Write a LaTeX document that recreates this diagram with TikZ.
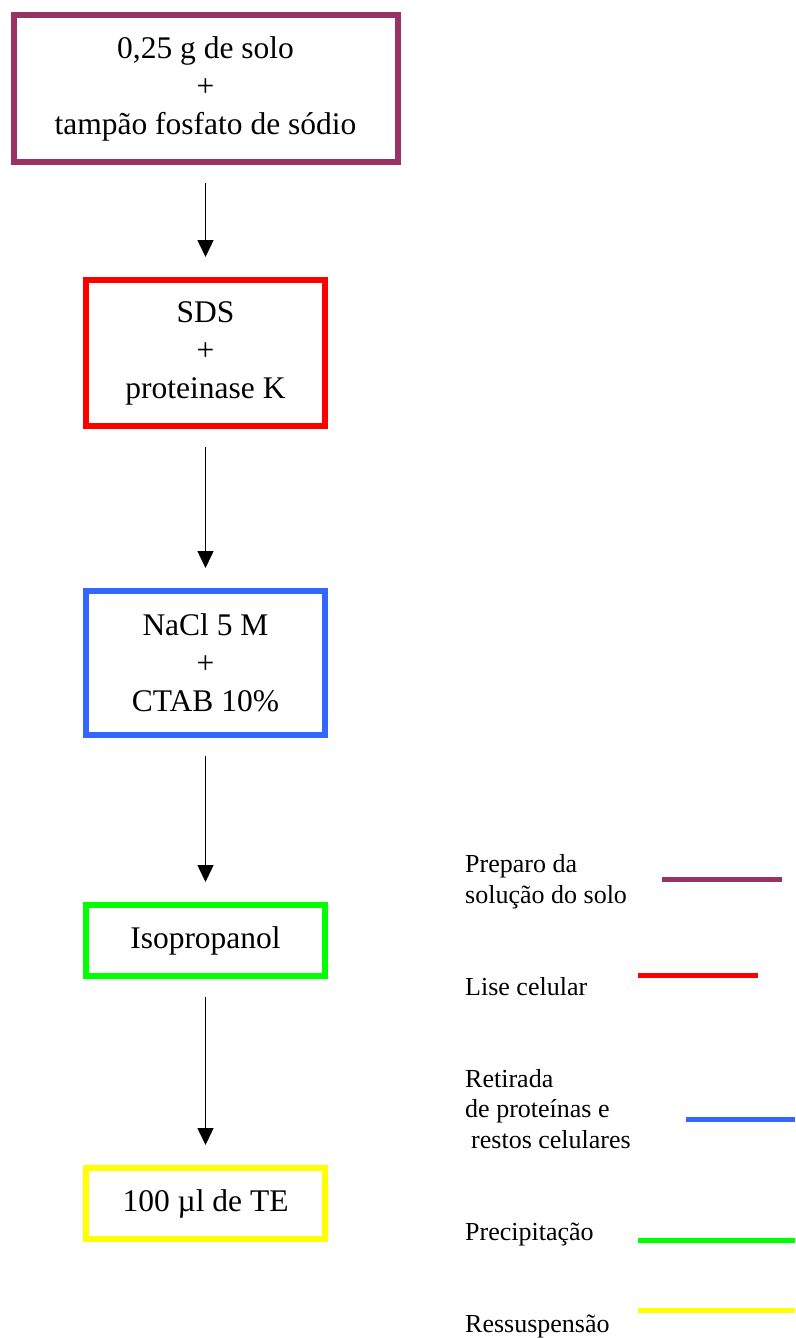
\documentclass[tikz,border=0pt]{standalone}
\usepackage{fontspec}
\setmainfont{Liberation Serif}
\usetikzlibrary{arrows.meta}

\definecolor{cpurple}{RGB}{153,51,102}
\definecolor{cred}{RGB}{255,0,0}
\definecolor{cblue}{RGB}{51,102,255}
\definecolor{cgreen}{RGB}{0,255,0}
\definecolor{cyellow}{RGB}{255,255,0}

\begin{document}
\begin{tikzpicture}[x=1pt,y=-1pt,
  stepbox/.style={draw=#1, line width=6pt, align=center, inner sep=0pt,
    minimum width=239pt, font=\fontsize{31.5}{38}\selectfont},
  flow/.style={line width=1.5pt, -{Triangle[width=16pt,length=17pt]},
    shorten <=18pt, shorten >=20pt},
  legtext/.style={font=\fontsize{26}{30.5}\selectfont, align=left,
    inner sep=0pt, anchor=base west},
  swatch/.style={line width=5pt, draw=#1}]

\fill[white] (0,0) rectangle (795,1338);
\useasboundingbox (0,0) rectangle (795,1338);

% protocol steps
\node[stepbox=cpurple, minimum width=384pt, minimum height=147pt] (solo) at (205.5,88.5)
  {0,25 g de solo\\+\\tampão fosfato de sódio};
\node[stepbox=cred, minimum height=146pt] (sds) at (205.5,353)
  {SDS\\+\\proteinase K};
\node[stepbox=cblue, minimum height=144pt] (nacl) at (205.5,663)
  {NaCl 5 M\\+\\CTAB 10\%};
\node[stepbox=cgreen, minimum height=71pt] (iso) at (205.5,940.5)
  {Isopropanol};
\node[stepbox=cyellow, minimum height=71pt] (te) at (205.5,1203.5)
  {100 µl de TE};

\draw[flow] (solo) -- (sds);
\draw[flow] (sds) -- (nacl);
\draw[flow] (nacl) -- (iso);
\draw[flow] (iso) -- (te);

% legend (base anchor sits on the last line of each label)
\node[legtext] (l1) at (465,903) {Preparo da\\solução do solo};
\node[legtext] (l2) at (465,995) {Lise celular};
\node[legtext] (l3) at (465,1148) {Retirada\\de proteínas e\\\hspace*{6pt}restos celulares};
\node[legtext] (l4) at (465,1240) {Precipitação};
\node[legtext] (l5) at (465,1332) {Ressuspensão};

\draw[swatch=cpurple] (662,879) -- (782,879);
\draw[swatch=cred] (638,975) -- (758,975);
\draw[swatch=cblue] (686,1119) -- (795,1119);
\draw[swatch=cgreen] (638,1240) -- (795,1240);
\draw[swatch=cyellow] (638,1310) -- (795,1310);
\end{tikzpicture}
\end{document}
